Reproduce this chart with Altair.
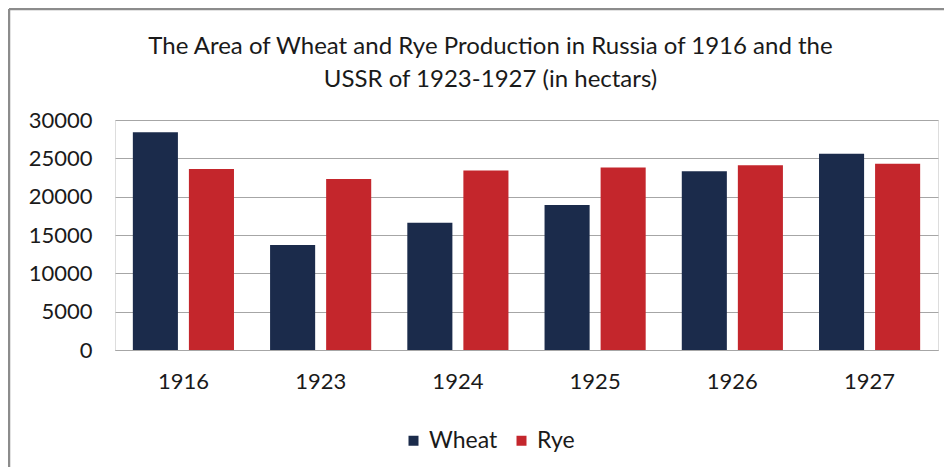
import altair as alt
import pandas as pd

years = ["1916", "1923", "1924", "1925", "1926", "1927"]
wheat = [28400, 13700, 16600, 18900, 23300, 25600]
rye = [23600, 22300, 23400, 23800, 24100, 24300]
series = ["Wheat", "Rye"]
colors = ["#1b2b4b", "#c4262c"]
y_ticks = [0, 5000, 10000, 15000, 20000, 25000, 30000]

rows = []
for i, yr in enumerate(years):
    rows.append({"year": yr, "series": "Wheat", "value": wheat[i]})
    rows.append({"year": yr, "series": "Rye", "value": rye[i]})
df = pd.DataFrame(rows)

FONT = "Lato"
TXT = "#1a1a1a"

bars = alt.Chart(df).mark_bar().encode(
    x=alt.X("year:N", sort=years, title=None,
            scale=alt.Scale(paddingInner=0.263, paddingOuter=0.13),
            axis=alt.Axis(labelAngle=0, ticks=False, domain=True, domainColor="#a6a6a6",
                          domainWidth=1, labelFontSize=22, labelFont=FONT, labelColor=TXT,
                          labelPadding=21, grid=False)),
    xOffset=alt.XOffset("series:N", sort=series, scale=alt.Scale(paddingInner=0.196)),
    y=alt.Y("value:Q", title=None,
            scale=alt.Scale(domain=[0, 30000], nice=False),
            axis=alt.Axis(values=y_ticks, format="d", ticks=False, domain=False, grid=True,
                          gridColor="#a6a6a6", gridWidth=1, labelFontSize=22, labelFont=FONT,
                          labelColor=TXT, labelPadding=23)),
    color=alt.Color("series:N", sort=series,
                    scale=alt.Scale(domain=series, range=colors),
                    legend=alt.Legend(title=None, orient="none", legendX=287, legendY=309,
                                      direction="horizontal", symbolType="square",
                                      symbolSize=100, symbolStrokeWidth=0,
                                      labelFontSize=23, labelFont=FONT, labelColor=TXT,
                                      columnPadding=12, labelOffset=4)),
)

border_df = pd.DataFrame({"x": [0]})
left = alt.Chart(border_df).mark_rule(color="#8c8c8c", strokeWidth=2.5).encode(
    x=alt.value(-106), y=alt.value(-111), y2=alt.value(360))
top = alt.Chart(border_df).mark_rule(color="#8c8c8c", strokeWidth=2.5).encode(
    x=alt.value(-106), x2=alt.value(840), y=alt.value(-111))

chart = alt.layer(bars, left, top).properties(
    width=823, height=230,
    padding={"left": 107, "top": 112, "right": 6, "bottom": 117},
    autosize=alt.AutoSizeParams(type="none"),
    title=alt.TitleParams(
        text=["The Area of Wheat and Rye Production in Russia of 1916 and the",
              "USSR of 1923-1927 (in hectars)"],
        font=FONT, fontSize=24, fontWeight="normal", color=TXT,
        anchor="middle", dx=-36, dy=84, offset=0, lineHeight=33),
).configure_view(stroke=None).configure(background="white")

chart.save("out.html", embed_options={"renderer": "svg", "actions": False})
